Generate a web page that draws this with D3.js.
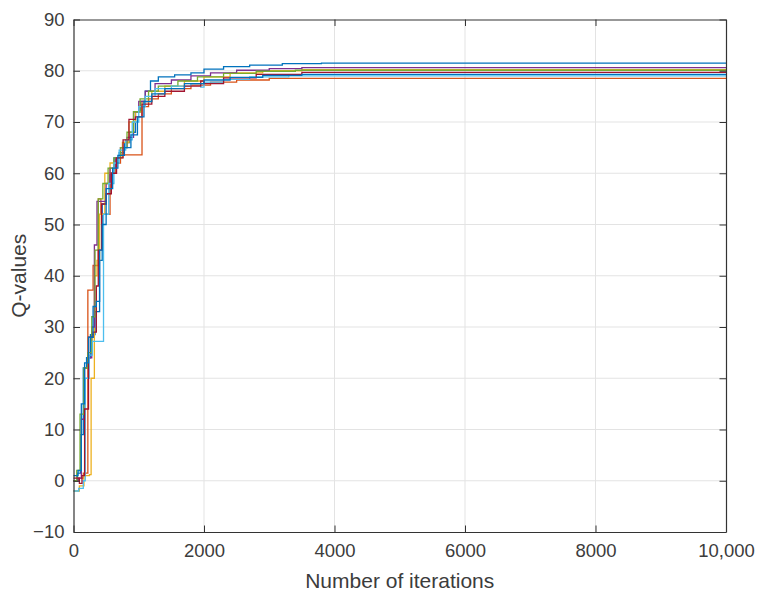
<!DOCTYPE html>
<html>
<head>
<meta charset="utf-8">
<script src="https://cdn.jsdelivr.net/npm/d3@7"></script>
<style>
  body { margin: 0; background: #fff; }
  svg { display: block; font-family: 'Liberation Sans', Arial, sans-serif; }
  .grid line { stroke: #e3e3e3; stroke-width: 1; }
  .tick-lbl { fill: #3c3c3c; font-size: 18.5px; }
  .ax-title { fill: #3c3c3c; font-size: 21px; }
  .qline { fill: none; stroke-width: 1.3; }
</style>
</head>
<body>
<svg id="chart"></svg>
<script>
// step curves: [iteration, Q-value]
const blueA = [[0,0],[60,1.5],[110,9],[150,22],[200,24],[260,28.5],[330,33],[400,43],[440,54],[500,56],[560,60],[620,63],[700,64],[780,66],[860,68],[950,72],[1030,74],[1100,76],[1180,78],[1300,78.8],[1550,79.2],[1800,79.6],[2000,80.3],[2300,80.8],[2700,81.1],[3200,81.4],[3800,81.5],[10000,81.5]]
const orange = [[0,0],[80,0.5],[150,1.5],[220,37.2],[300,42],[380,55],[420,52],[560,60],[640,62],[720,63.6],[1050,73],[1150,74.5],[1300,75.5],[1500,76.5],[1800,77.2],[2100,77.8],[2500,78.2],[3000,78.5],[10000,78.5]]
const yellow = [[0,-2],[90,-1],[160,1],[245,1.2],[270,20],[320,40],[360,43],[400,52],[480,60],[560,62],[650,63],[750,66],[850,70],[950,72],[1050,74],[1200,76],[1400,77],[1700,78],[2000,78.8],[2400,79.6],[2900,80],[3500,80.2],[10000,80.2]]
const purple = [[0,0],[70,0.5],[120,12],[170,22],[220,24],[280,30],[320,46],[360,54.5],[450,54.5],[500,58],[560,61],[640,63],[720,65],[820,67],[920,72],[1000,74],[1100,76],[1250,77.5],[1500,78.2],[1800,79],[2100,79.6],[2500,80.1],[3000,80.4],[3500,80.6],[10000,80.6]]
const green = [[0,0],[50,2],[100,13],[160,22],[220,25],[280,32],[330,45],[380,55],[450,58],[530,61],[620,63],[720,65],[820,68],[920,72],[1020,74.5],[1150,76],[1300,77],[1600,78],[1900,78.8],[2300,79.5],[2800,79.9],[3400,80.1],[10000,80.1]]
const lightBlue = [[0,-2],[80,-1.5],[150,0],[180,20],[240,24.5],[290,27.2],[460,52],[540,58],[620,62],[700,64.5],[800,66.5],[900,70],[1000,73],[1100,75],[1250,76.5],[1500,77],[1800,77.5],[1950,76.8],[2000,77.8],[2300,78.3],[2700,78.8],[3300,79.0],[10000,79.0]]
const darkRed = [[0,0.5],[90,-0.5],[130,1],[170,14],[230,28],[300,29],[350,38],[380,45],[430,54],[500,56],[580,60],[660,63],[760,66.5],[850,70.5],[950,71],[1050,73.5],[1200,75],[1400,76],[1700,77],[1950,78],[2000,77.5],[2300,78.6],[2800,79.3],[3500,79.7],[10000,79.7]]
const blueB = [[0,1],[70,2],[120,15],[170,23],[230,28],[300,34],[350,35],[400,45],[440,50],[500,57],[600,61],[680,63.5],[780,65],[880,67.5],[980,71],[1080,74],[1200,75.5],[1400,76.5],[1700,77.5],[2000,78.2],[2400,78.7],[2900,79.1],[3500,79.3],[10000,79.3]]

const seriesList = [blueA, orange, yellow, purple, green, lightBlue, darkRed, blueB]
const colors = ['#0072BD', '#D95319', '#EDB120', '#7E2F8E', '#77AC30', '#4DBEEE', '#A2142F', '#0072BD']

const xTicks = [0, 2000, 4000, 6000, 8000, 10000]
const yTicks = [-10, 0, 10, 20, 30, 40, 50, 60, 70, 80, 90]

const drawChart = () => {

    const width = 766
    const height = 599

    const pad = { top: 19.5, right: 40, bottom: 67, left: 73.5 }

    const svg = d3.select('#chart')
        .attr('width', width)
        .attr('height', height)

    const xScale = d3.scaleLinear()
        .domain([0, 10000])
        .range([pad.left, width - pad.right])

    const yScale = d3.scaleLinear()
        .domain([-10, 90])
        .range([height - pad.bottom, pad.top])

    const grid = svg.append('g').attr('class', 'grid')

    grid.selectAll('.gx')
        .data(xTicks.slice(1, -1))
        .enter()
        .append('line')
        .attr('x1', d => xScale(d)).attr('x2', d => xScale(d))
        .attr('y1', yScale(-10)).attr('y2', yScale(90))

    grid.selectAll('.gy')
        .data(yTicks.slice(1, -1))
        .enter()
        .append('line')
        .attr('x1', xScale(0)).attr('x2', xScale(10000))
        .attr('y1', d => yScale(d)).attr('y2', d => yScale(d))

    const lineGen = d3.line()
        .x(d => xScale(d[0]))
        .y(d => yScale(d[1]))
        .curve(d3.curveStepAfter)

    svg.selectAll('.qline')
        .data(seriesList)
        .enter()
        .append('path')
        .attr('class', 'qline')
        .attr('d', lineGen)
        .attr('stroke', (d, i) => colors[i])

    // MATLAB style box with inward ticks on all sides
    const tickLen = 6.5
    const axisColor = '#333'

    const fmt = d => d === 10000 ? '10,000' : (d < 0 ? '\u2212' + Math.abs(d) : String(d))

    const bottomAxis = d3.axisBottom(xScale).tickValues(xTicks).tickSizeInner(-tickLen).tickSizeOuter(0).tickPadding(12).tickFormat(fmt)
    const topAxis = d3.axisTop(xScale).tickValues(xTicks).tickSizeInner(-tickLen).tickSizeOuter(0).tickFormat('')
    const leftAxis = d3.axisLeft(yScale).tickValues(yTicks).tickSizeInner(-tickLen).tickSizeOuter(0).tickPadding(9).tickFormat(fmt)
    const rightAxis = d3.axisRight(yScale).tickValues(yTicks).tickSizeInner(-tickLen).tickSizeOuter(0).tickFormat('')

    const axes = [
        [bottomAxis, `translate(0,${yScale(-10)})`],
        [topAxis, `translate(0,${yScale(90)})`],
        [leftAxis, `translate(${xScale(0)},0)`],
        [rightAxis, `translate(${xScale(10000)},0)`]
    ]

    axes.forEach(([ax, tr]) => {
        const g = svg.append('g').attr('transform', tr).call(ax)
        g.select('.domain').attr('stroke', axisColor).attr('stroke-width', 1.2)
        g.selectAll('.tick line').attr('stroke', axisColor).attr('stroke-width', 1)
        g.selectAll('.tick text')
            .attr('class', 'tick-lbl')
            .attr('font-family', null)
            .attr('font-size', null)
            .attr('fill', null)
    })

    svg.append('text')
        .attr('class', 'ax-title')
        .attr('x', (xScale(0) + xScale(10000)) / 2)
        .attr('y', height - 11)
        .attr('text-anchor', 'middle')
        .text('Number of iterations')

    svg.append('text')
        .attr('class', 'ax-title')
        .attr('transform', `translate(26,${(yScale(-10) + yScale(90)) / 2}) rotate(-90)`)
        .attr('text-anchor', 'middle')
        .text('Q-values')
}

drawChart()
</script>
</body>
</html>
